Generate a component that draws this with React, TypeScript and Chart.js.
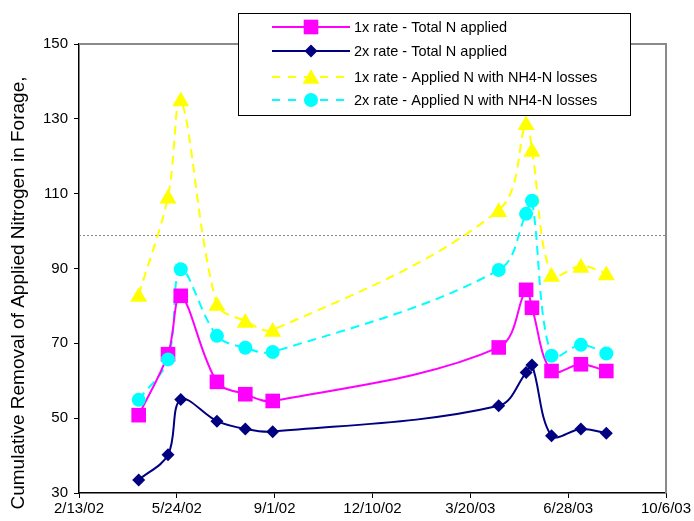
import React, { useEffect, useRef } from "react";
import { Chart, registerables } from "chart.js";

Chart.register(...registerables);

// ---- data ----
const sampleDates = ["4/15/02", "5/15/02", "5/28/02", "7/4/02", "8/2/02", "8/30/02", "4/18/03", "5/16/03", "5/22/03", "6/11/03", "7/11/03", "8/6/03"];
const totalN1x = [50.8, 67.1, 82.7, 59.7, 56.4, 54.6, 68.9, 84.3, 79.5, 62.6, 64.4, 62.6];
const totalN2x = [33.5, 40.2, 55.0, 49.2, 47.1, 46.4, 53.3, 62.2, 64.2, 45.3, 47.1, 46.0];
const nh4Loss1x = [82.9, 109.2, 135.2, 80.5, 76.0, 73.6, 105.6, 128.8, 121.7, 88.3, 90.7, 88.7];
const nh4Loss2x = [54.9, 65.7, 89.8, 72.0, 68.8, 67.7, 89.6, 104.6, 108.1, 66.7, 69.6, 67.3];
const seriesNames = [
  "1x rate - Total N applied",
  "2x rate - Total N applied",
  "1x rate - Applied N with NH4-N losses",
  "2x rate - Applied N with NH4-N losses",
];
const xTickLabels = ["2/13/02", "5/24/02", "9/1/02", "12/10/02", "3/20/03", "6/28/03", "10/6/03"];
const yTickValues = [30, 50, 70, 90, 110, 130, 150];
const referenceLine = 99;
const yTitle = "Cumulative Removal of Applied Nitrogen in Forage,";

const dayOf = (s: string) => {
  const [m, d, y] = s.split("/").map(Number);
  return Date.UTC(2000 + y, m - 1, d) / 86400000;
};

const FONT = "'Liberation Sans', Arial, sans-serif";

type Style = { color: string; shape: string; radius: number; dash: number[] };
const styles: Style[] = [
  { color: "#FF00FF", shape: "square", radius: 7.3, dash: [] },
  { color: "#000080", shape: "diamond", radius: 6.5, dash: [] },
  { color: "#FFFF00", shape: "triangle", radius: 8.5, dash: [9, 6] },
  { color: "#00FFFF", shape: "circle", radius: 7, dash: [9, 6] },
];

function drawMarker(ctx: CanvasRenderingContext2D, shape: string, x: number, y: number, r: number, color: string) {
  ctx.save();
  ctx.fillStyle = color;
  ctx.beginPath();
  if (shape === "square") {
    ctx.rect(x - r, y - r, 2 * r, 2 * r);
  } else if (shape === "diamond") {
    ctx.moveTo(x, y - r);
    ctx.lineTo(x + r, y);
    ctx.lineTo(x, y + r);
    ctx.lineTo(x - r, y);
    ctx.closePath();
  } else if (shape === "triangle") {
    const h = r * 1.6;
    ctx.moveTo(x, y - h / 2 - 1);
    ctx.lineTo(x + r, y + h / 2);
    ctx.lineTo(x - r, y + h / 2);
    ctx.closePath();
  } else {
    ctx.arc(x, y, r, 0, Math.PI * 2);
  }
  ctx.fill();
  ctx.restore();
}

const series = [totalN1x, totalN2x, nh4Loss1x, nh4Loss2x];

export default function App() {
  const ref = useRef<HTMLCanvasElement | null>(null);

  useEffect(() => {
    const canvas = ref.current;
    if (!canvas) return;
    const xs = sampleDates.map(dayOf);
    const tickDays = xTickLabels.map(dayOf);

    const markerPlugin = {
      id: "customDecor",
      beforeDatasetsDraw(chart: any) {
        const { ctx, chartArea: a, scales } = chart;
        ctx.save();
        ctx.strokeStyle = "#8a8a8a";
        ctx.lineWidth = 2;
        ctx.beginPath();
        ctx.moveTo(a.left, a.top);
        ctx.lineTo(a.right, a.top);
        ctx.lineTo(a.right, a.bottom);
        ctx.stroke();
        const yy = Math.round(scales.y.getPixelForValue(referenceLine)) + 0.5;
        ctx.strokeStyle = "#888888";
        ctx.lineWidth = 1;
        ctx.setLineDash([2, 2]);
        ctx.beginPath();
        ctx.moveTo(a.left, yy);
        ctx.lineTo(a.right, yy);
        ctx.stroke();
        ctx.restore();
      },
      afterDatasetsDraw(chart: any) {
        const { ctx, scales } = chart;
        series.forEach((vals, si) => {
          const st = styles[si];
          vals.forEach((v, i) => {
            drawMarker(ctx, st.shape, scales.x.getPixelForValue(xs[i]), scales.y.getPixelForValue(v), st.radius, st.color);
          });
        });
      },
      afterDraw(chart: any) {
        const { ctx } = chart;
        ctx.save();
        ctx.translate(19, 293);
        ctx.rotate(-Math.PI / 2);
        ctx.fillStyle = "#000";
        ctx.font = `19px ${FONT}`;
        ctx.textAlign = "center";
        ctx.textBaseline = "middle";
        ctx.fillText(yTitle, 0, 0);
        ctx.restore();

        ctx.save();
        ctx.fillStyle = "#fff";
        ctx.fillRect(238.5, 13.5, 392, 102);
        ctx.strokeStyle = "#000";
        ctx.lineWidth = 1;
        ctx.strokeRect(238.5, 13.5, 392, 102);
        const rows = [27, 51, 77, 100];
        seriesNames.forEach((name, i) => {
          const st = styles[i];
          const y = rows[i];
          ctx.save();
          ctx.strokeStyle = st.color;
          ctx.lineWidth = 2;
          ctx.setLineDash(st.dash.length ? [8, 8] : []);
          ctx.beginPath();
          ctx.moveTo(272, y);
          ctx.lineTo(350, y);
          ctx.stroke();
          ctx.restore();
          drawMarker(ctx, st.shape, 311, y, st.radius, st.color);
          ctx.fillStyle = "#000";
          ctx.font = `14.5px ${FONT}`;
          ctx.textAlign = "left";
          ctx.textBaseline = "middle";
          ctx.fillText(name, 354, y + 0.5);
        });
        ctx.restore();
      },
    };

    const chart = new Chart(canvas, {
      type: "line",
      data: {
        datasets: series.map((vals, si) => ({
          label: seriesNames[si],
          data: vals.map((v, i) => ({ x: xs[i], y: v })),
          borderColor: styles[si].color,
          borderWidth: 2,
          borderDash: styles[si].dash,
          pointRadius: 0,
          tension: 0.35,
          fill: false,
        })),
      },
      options: {
        animation: false,
        responsive: false,
        maintainAspectRatio: false,
        devicePixelRatio: 1,
        layout: { padding: { left: 0, right: 28, top: 44, bottom: 0 } },
        plugins: { legend: { display: false }, tooltip: { enabled: false } },
        scales: {
          x: {
            type: "linear",
            min: tickDays[0],
            max: tickDays[tickDays.length - 1],
            afterBuildTicks: (scale: any) => {
              scale.ticks = tickDays.map((v) => ({ value: v }));
            },
            afterFit: (scale: any) => {
              scale.height = 28;
            },
            ticks: {
              autoSkip: false,
              maxRotation: 0,
              padding: 2,
              color: "#000",
              font: { family: FONT, size: 15 },
              callback: (v: any) => {
                const idx = tickDays.indexOf(Number(v));
                return idx >= 0 ? xTickLabels[idx] : "";
              },
            },
            grid: { display: true, drawOnChartArea: false, drawTicks: true, tickLength: 5, color: "#000" },
            border: { display: true, color: "#000", width: 1.5 },
          },
          y: {
            type: "linear",
            min: yTickValues[0],
            max: yTickValues[yTickValues.length - 1],
            afterBuildTicks: (scale: any) => {
              scale.ticks = yTickValues.map((v) => ({ value: v }));
            },
            afterFit: (scale: any) => {
              scale.width = 79;
            },
            ticks: {
              padding: 6,
              color: "#000",
              font: { family: FONT, size: 15 },
            },
            grid: { display: true, drawOnChartArea: false, drawTicks: true, tickLength: 5, color: "#000" },
            border: { display: true, color: "#000", width: 1.5 },
          },
        },
      },
      plugins: [markerPlugin],
    } as any);
    return () => chart.destroy();
  }, []);

  return (
    <div style={{ position: "fixed", left: 0, top: 0, width: 694, height: 521, background: "#fff" }}>
      <canvas ref={ref} width={694} height={521} style={{ width: 694, height: 521, display: "block" }} />
    </div>
  );
}
